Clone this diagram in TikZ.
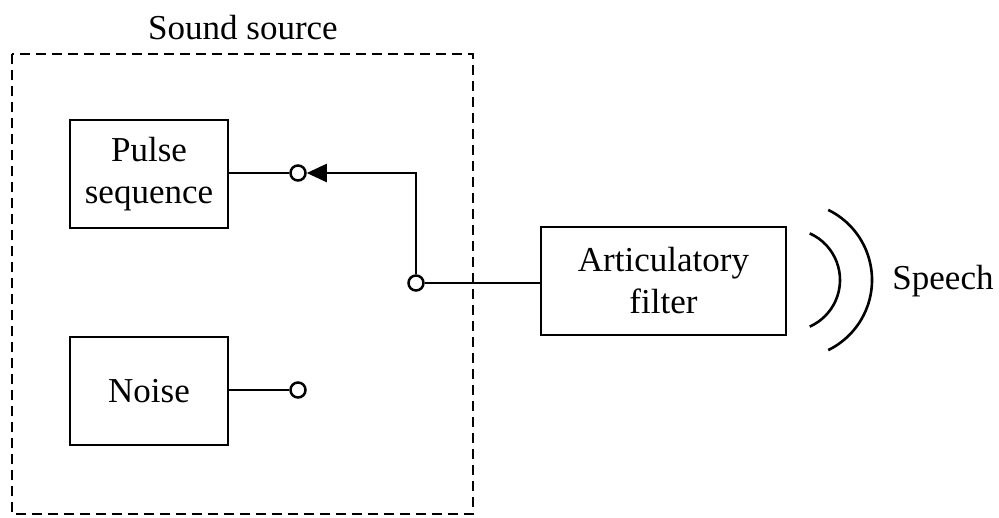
\documentclass[tikz,border=0pt]{standalone}
\usepackage{fontspec}
\setmainfont{Liberation Serif}
\usetikzlibrary{arrows.meta}
\begin{document}
\begin{tikzpicture}[x=1pt,y=-1pt,
  lbl/.style={font=\fontsize{35}{42}\selectfont, align=center, inner sep=0pt},
  block/.style={lbl, draw, line width=2.3pt, minimum height=108pt},
  term/.style={circle, draw, line width=2.5pt, minimum size=15pt, inner sep=0pt},
  wire/.style={line width=2.3pt},
  wave/.style={line width=2.6pt}]
  \useasboundingbox (0,0) rectangle (999,517);

  % sound source enclosure
  \draw[line width=2.6pt, dash pattern=on 10pt off 6pt] (12,54) rectangle (473,514);
  \node[lbl] (title) at (243,28) {Sound source};

  % generators
  \node[block, minimum width=158pt] (pulse) at (149,174) {Pulse\\sequence};
  \node[block, minimum width=158pt] (noise) at (149,391) {Noise};

  % switch terminals
  \node[term] (tp) at (298,173) {};
  \node[term] (tn) at (298,390) {};
  \node[term] (tc) at (416,283) {};
  \coordinate (corner) at (416,173);

  % vocal tract filter
  \node[block, minimum width=245pt] (filter) at (663.5,281) {Articulatory\\filter};

  % wiring
  \draw[wire] (pulse.east |- tp) -- (tp);
  \draw[wire] (noise.east |- tn) -- (tn);
  \draw[wire, -{Triangle[length=20pt,width=18pt]}] (tc) -- (corner) -- (tp);
  \draw[wire] (tc) -- (filter.west |- tc);

  % radiated sound
  \draw[wave] (789,280) ++(-66:51) arc[start angle=-66, end angle=66, radius=51];
  \draw[wave] (794,280) ++(-64:78) arc[start angle=-64, end angle=64, radius=78];
  \node[lbl] (speech) at (943,281) {Speech};
\end{tikzpicture}
\end{document}
